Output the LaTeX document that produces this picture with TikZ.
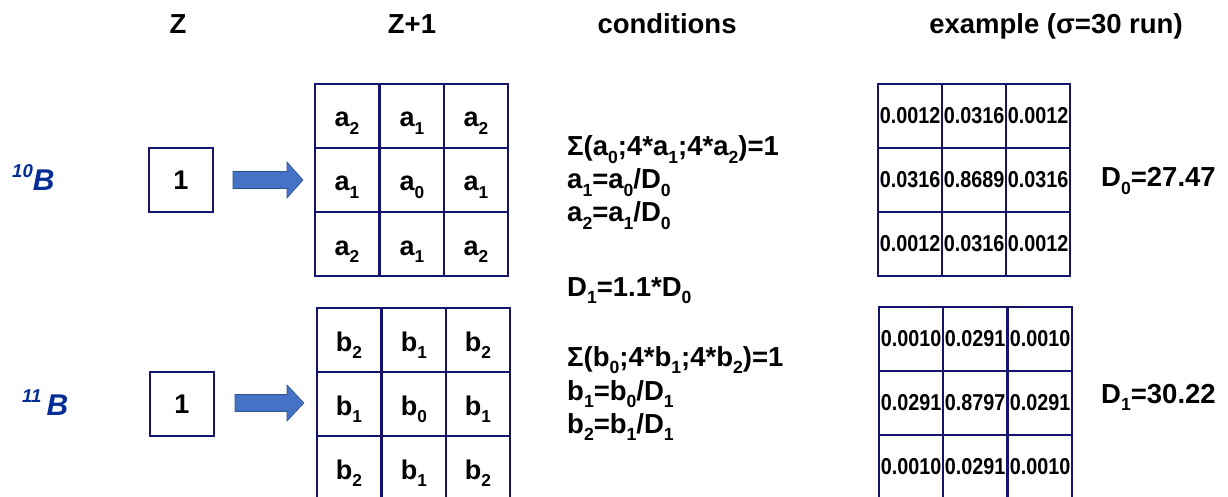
\documentclass[tikz,border=0pt]{standalone}
\usepackage{fontspec}
\setmainfont{Liberation Sans}
\definecolor{gridline}{RGB}{20,20,110}
\definecolor{isoblue}{RGB}{5,45,150}
\definecolor{arrowfill}{RGB}{68,114,196}
\definecolor{arrowedge}{RGB}{47,82,143}
\newcommand\sbs[1]{\raisebox{-0.27em}{\scalebox{0.64}{#1}}}
\newcommand\sps[1]{\raisebox{0.42em}{\scalebox{0.62}{#1}}}
\newcommand\num[1]{\scalebox{0.86}[1]{#1}}
\begin{document}
\begin{tikzpicture}[x=1pt,y=-1pt,
  box/.style={draw=gridline,line width=1.3pt,minimum width=64pt,minimum height=64pt,inner sep=0pt,
    font=\fontsize{27}{30}\selectfont\bfseries},
  cell/.style={box,text height=22pt,text depth=0pt},
  numcell/.style={draw=gridline,line width=1.3pt,minimum width=64pt,minimum height=64pt,inner sep=0pt,
    font=\fontsize{23}{25}\selectfont\bfseries},
  head/.style={anchor=base,inner sep=0pt,font=\fontsize{27.5}{30}\selectfont\bfseries},
  cond/.style={anchor=base west,inner sep=0pt,font=\fontsize{27.5}{30}\selectfont\bfseries},
  iso/.style={anchor=base west,inner sep=0pt,text=isoblue,font=\fontsize{30}{32}\selectfont\bfseries\itshape},
  blockarrow/.style={fill=arrowfill,draw=arrowedge,line width=0.6pt}
]
\useasboundingbox (0,0) rectangle (1228,497);
% headers
\node[head] (hZ) at (178,34) {Z};
\node[head] (hZ1) at (412,34) {Z+1};
\node[head] (hc) at (667,34) {conditions};
\node[head] (he) at (1056,34) {example (σ=30 run)};
% isotopes
\node[iso] (i10) at (12,190) {\sps{10}B};
\node[iso] (i11) at (22,415) {\sps{11}\,B};
% boxes 1
\node[box] (oneA) at (181,180) {1};
\node[box] (oneB) at (182,404) {1};
% arrows
\coordinate (arA) at (233,180);
\filldraw[blockarrow] (arA) ++(0,-8.5) -- ++(54,0) -- ++(0,-9.5) -- ++(16,18) -- ++(-16,18) -- ++(0,-9.5) -- ++(-54,0) -- cycle;
\coordinate (arB) at (235,403);
\filldraw[blockarrow] (arB) ++(0,-8.5) -- ++(52,0) -- ++(0,-9.5) -- ++(17,18) -- ++(-17,18) -- ++(0,-9.5) -- ++(-52,0) -- cycle;
% grid a
\node[cell] (a11) at (347,116) {a\sbs{2}};
\node[cell] (a12) at (412,116) {a\sbs{1}};
\node[cell] (a13) at (476,116) {a\sbs{2}};
\node[cell] (a21) at (347,180) {a\sbs{1}};
\node[cell] (a22) at (412,180) {a\sbs{0}};
\node[cell] (a23) at (476,180) {a\sbs{1}};
\node[cell] (a31) at (347,244) {a\sbs{2}};
\node[cell] (a32) at (412,244) {a\sbs{1}};
\node[cell] (a33) at (476,244) {a\sbs{2}};
% grid b
\node[cell] (b11) at (349,340) {b\sbs{2}};
\node[cell] (b12) at (414,340) {b\sbs{1}};
\node[cell] (b13) at (478,340) {b\sbs{2}};
\node[cell] (b21) at (349,404) {b\sbs{1}};
\node[cell] (b22) at (414,404) {b\sbs{0}};
\node[cell] (b23) at (478,404) {b\sbs{1}};
\node[cell] (b31) at (349,468) {b\sbs{2}};
\node[cell] (b32) at (414,468) {b\sbs{1}};
\node[cell] (b33) at (478,468) {b\sbs{2}};
% conditions
\node[cond] (ca1) at (567,156) {Σ(a\sbs{0};4*a\sbs{1};4*a\sbs{2})=1};
\node[cond] (ca2) at (567,189) {a\sbs{1}=a\sbs{0}/D\sbs{0}};
\node[cond] (ca3) at (567,222) {a\sbs{2}=a\sbs{1}/D\sbs{0}};
\node[cond] (cd) at (567,296) {D\sbs{1}=1.1*D\sbs{0}};
\node[cond] (cb1) at (567,366) {Σ(b\sbs{0};4*b\sbs{1};4*b\sbs{2})=1};
\node[cond] (cb2) at (567,400) {b\sbs{1}=b\sbs{0}/D\sbs{1}};
\node[cond] (cb3) at (567,433) {b\sbs{2}=b\sbs{1}/D\sbs{1}};
% example a
\node[numcell] (e11) at (910,116) {\num{0.0012}};
\node[numcell] (e12) at (974,116) {\num{0.0316}};
\node[numcell] (e13) at (1038,116) {\num{0.0012}};
\node[numcell] (e21) at (910,180) {\num{0.0316}};
\node[numcell] (e22) at (974,180) {\num{0.8689}};
\node[numcell] (e23) at (1038,180) {\num{0.0316}};
\node[numcell] (e31) at (910,244) {\num{0.0012}};
\node[numcell] (e32) at (974,244) {\num{0.0316}};
\node[numcell] (e33) at (1038,244) {\num{0.0012}};
% example b
\node[numcell] (f11) at (911,339) {\num{0.0010}};
\node[numcell] (f12) at (975,339) {\num{0.0291}};
\node[numcell] (f13) at (1040,339) {\num{0.0010}};
\node[numcell] (f21) at (911,403) {\num{0.0291}};
\node[numcell] (f22) at (975,403) {\num{0.8797}};
\node[numcell] (f23) at (1040,403) {\num{0.0291}};
\node[numcell] (f31) at (911,467) {\num{0.0010}};
\node[numcell] (f32) at (975,467) {\num{0.0291}};
\node[numcell] (f33) at (1040,467) {\num{0.0010}};
% D values
\node[cond] (d0) at (1101,187) {D\sbs{0}=27.47};
\node[cond] (d1) at (1101,403) {D\sbs{1}=30.22};
\end{tikzpicture}
\end{document}
